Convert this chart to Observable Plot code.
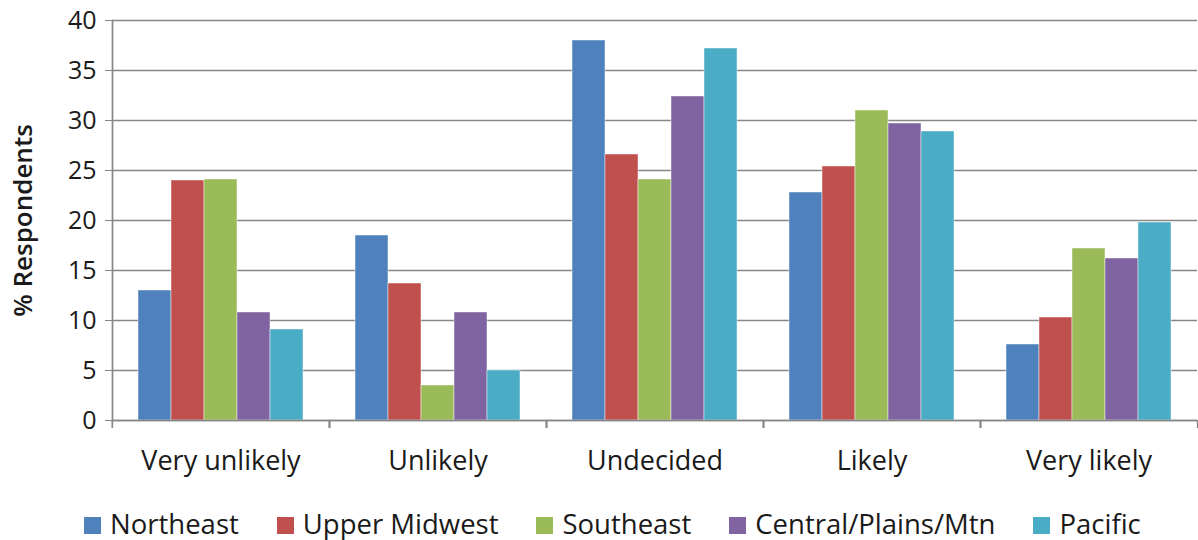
<!DOCTYPE html>
<html>
<head>
<meta charset="utf-8">
<script src="https://cdn.jsdelivr.net/npm/d3@7"></script>
<script src="https://cdn.jsdelivr.net/npm/@observablehq/plot@0.6"></script>
<style>
  html, body { margin: 0; padding: 0; background: white; }
  #legend { display: flex; padding-left: 84px; margin-top: 8px; font-family: 'Open Sans', sans-serif; font-size: 27.5px; line-height: 32px; color: #1a1a1a; }
  #legend .item { display: flex; align-items: center; margin-right: 38px; }
  #legend .sw { width: 17px; height: 17px; margin-right: 9px; margin-top: 2px; }
</style>
</head>
<body>
<div id="chart"></div>
<div id="legend"></div>
<script>
const categories = ["Very unlikely", "Unlikely", "Undecided", "Likely", "Very likely"];
const regions = ["Northeast", "Upper Midwest", "Southeast", "Central/Plains/Mtn", "Pacific"];
const northeast    = [13.0, 18.5, 38.0, 22.8, 7.6];
const upperMidwest = [24.0, 13.7, 26.6, 25.4, 10.3];
const southeast    = [24.1, 3.5, 24.1, 31.0, 17.2];
const central      = [10.8, 10.8, 32.4, 29.7, 16.2];
const pacific      = [9.1, 5.0, 37.2, 28.9, 19.8];
const colors = ["#4f81bd", "#c0504d", "#9bbb59", "#8064a2", "#4bacc6"];
const yTicks = [0, 5, 10, 15, 20, 25, 30, 35, 40];
const yLabel = "% Respondents";

const series = [northeast, upperMidwest, southeast, central, pacific];
const data = [];
categories.forEach((c, i) => regions.forEach((r, j) => data.push({cat: c, region: r, value: series[j][i]})));

const W = 1198, H = 500, ML = 111, MR = 0, MT = 20, MB = 80;
const step = (W - ML - MR) / categories.length;
const gray = "#878787";

const chart = Plot.plot({
  width: W, height: H,
  marginTop: MT, marginBottom: MB, marginLeft: ML, marginRight: MR,
  style: {fontFamily: "'Open Sans', sans-serif", fontSize: "25px", color: "#1a1a1a", background: "white"},
  fx: {domain: categories, padding: 0, label: null},
  x: {domain: regions, paddingInner: 0, paddingOuter: 0.75, axis: null},
  y: {domain: [0, 40], label: null},
  color: {domain: regions, range: colors},
  marks: [
    Plot.gridY(yTicks, {stroke: gray, strokeOpacity: 1, strokeWidth: 1.7}),
    Plot.barY(data, {fx: "cat", x: "region", y: "value", fill: "region", stroke: "white", strokeOpacity: 0.45, strokeWidth: 1}),
    Plot.ruleY([0], {stroke: gray, strokeWidth: 1.7}),
    Plot.frame({anchor: "left", facetAnchor: "left", stroke: gray, strokeWidth: 1.7}),
    Plot.axisY(yTicks, {tickSize: 7, tickPadding: 9, stroke: gray, fill: "#1a1a1a", label: null, fontSize: 25}),
    Plot.text([yLabel], {frameAnchor: "left", facetAnchor: "left", textAnchor: "middle", lineAnchor: "middle", dx: -89, rotate: -90, fontSize: 26, fontWeight: 600, fill: "#1a1a1a"}),
    Plot.axisFx({anchor: "bottom", tickSize: 0, tickPadding: 30, fontSize: 27, fill: "#1a1a1a", label: null}),
    Plot.axisFx({anchor: "bottom", tickSize: 8, tickFormat: () => "", dx: -step / 2, stroke: gray, strokeWidth: 1.7, label: null}),
    Plot.axisFx([categories[categories.length - 1]], {anchor: "bottom", tickSize: 8, tickFormat: () => "", dx: step / 2, stroke: gray, strokeWidth: 1.7, label: null})
  ]
});
document.getElementById("chart").append(chart);

const legend = d3.select("#legend");
regions.forEach((r, i) => {
  const item = legend.append("div").attr("class", "item");
  item.append("div").attr("class", "sw").style("background", colors[i]);
  item.append("span").text(r);
});
</script>
</body>
</html>
